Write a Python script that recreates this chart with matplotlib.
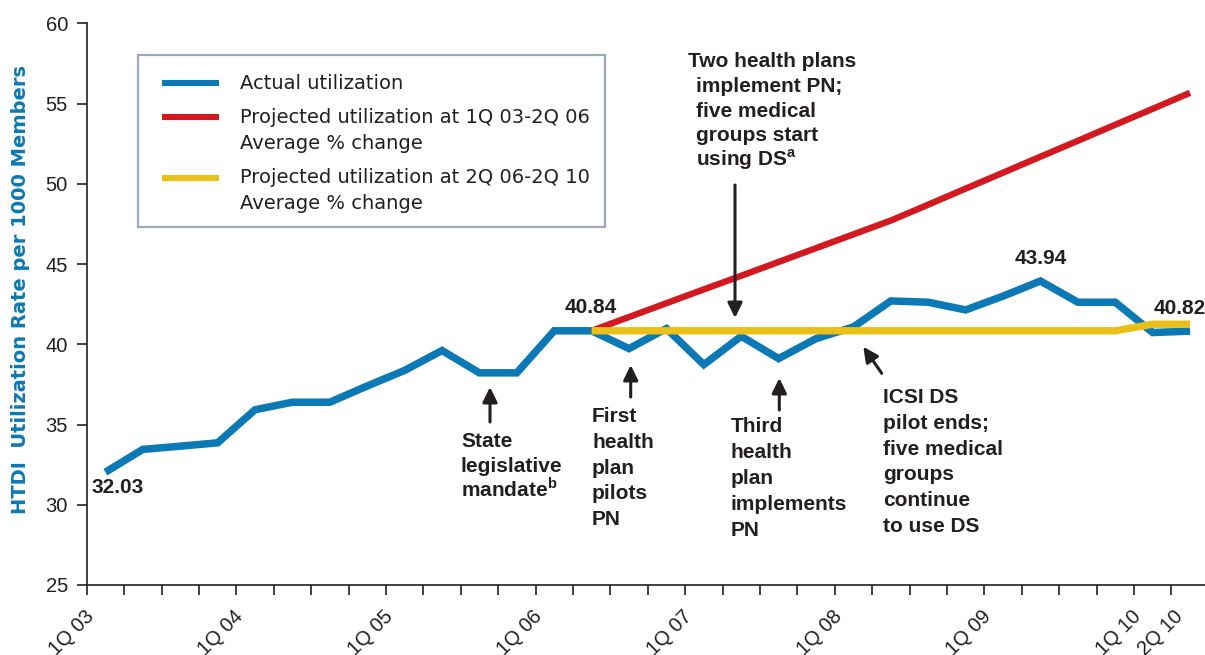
import numpy as np
import matplotlib
matplotlib.use("Agg")
import matplotlib.pyplot as plt
from matplotlib.transforms import Affine2D, ScaledTranslation
from matplotlib.patches import Rectangle, FancyArrowPatch
from matplotlib.lines import Line2D

# ---------------- data ----------------
quarters = ["1Q 03", "2Q 03", "3Q 03", "4Q 03",
            "1Q 04", "2Q 04", "3Q 04", "4Q 04",
            "1Q 05", "2Q 05", "3Q 05", "4Q 05",
            "1Q 06", "2Q 06", "3Q 06", "4Q 06",
            "1Q 07", "2Q 07", "3Q 07", "4Q 07",
            "1Q 08", "2Q 08", "3Q 08", "4Q 08",
            "1Q 09", "2Q 09", "3Q 09", "4Q 09",
            "1Q 10", "2Q 10"]
shown_ticks = ["1Q 03", "1Q 04", "1Q 05", "1Q 06", "1Q 07", "1Q 08", "1Q 09", "1Q 10", "2Q 10"]

actual = [32.03, 33.45, 33.65, 33.86, 35.92, 36.39, 36.39, 37.40, 38.37, 39.61,
          38.22, 38.22, 40.84, 40.84, 39.73, 40.98, 38.73, 40.50, 39.11, 40.35,
          41.08, 42.70, 42.62, 42.14, 43.00, 43.94, 42.62, 42.62, 40.73, 40.82]

proj_start = "2Q 06"
proj_1q03_2q06 = [40.84, 41.70, 42.56, 43.42, 44.27, 45.13, 45.99, 46.85, 47.71,
                  48.70, 49.70, 50.69, 51.69, 52.68, 53.68, 54.67, 55.67]
proj_2q06_2q10 = [40.84, 40.84, 40.84, 40.84, 40.84, 40.84, 40.84, 40.84, 40.84,
                  40.84, 40.84, 40.84, 40.84, 40.84, 40.84, 41.25, 41.25]

point_labels = ["32.03", "40.84", "43.94", "40.82"]

legend_labels = [["Actual utilization"],
                 ["Projected utilization at 1Q 03-2Q 06", "Average % change"],
                 ["Projected utilization at 2Q 06-2Q 10", "Average % change"]]

# ---------------- style ----------------
BLUE = "#0a79b5"
RED = "#d4181f"
YEL = "#e8c018"
TXT = "#231f20"
BOX = "#9da8bb"

plt.rcParams["font.family"] = ["Liberation Sans", "DejaVu Sans"]
plt.rcParams["mathtext.fontset"] = "custom"
plt.rcParams["mathtext.rm"] = "Liberation Sans"
plt.rcParams["mathtext.bf"] = "Liberation Sans:bold"

W, H = 1205, 655
fig = plt.figure(figsize=(W / 100, H / 100), dpi=100)
P = Affine2D().scale(1 / 100, -1 / 100).translate(0, H / 100) + fig.dpi_scale_trans

ax_left, ax_bottom, ax_top = 86.7, 585.0, 23.3
ax = fig.add_axes([ax_left / W, (H - ax_bottom) / H, (W - ax_left) / W, (ax_bottom - ax_top) / H])
ax.set_xlim(0, 29.9)
ax.set_ylim(25, 60)

for s in ["top", "right"]:
    ax.spines[s].set_visible(False)
for s in ["left", "bottom"]:
    ax.spines[s].set_color(TXT)
    ax.spines[s].set_linewidth(1.2)

ax.set_yticks(np.arange(25, 61, 5))
ax.tick_params(axis="y", direction="out", length=7, width=1.2, color=TXT,
               labelsize=14.5, labelcolor=TXT, pad=6.5)
ax.set_xticks(np.arange(len(quarters)))
ax.set_xticklabels([q if q in shown_ticks else "" for q in quarters],
                   rotation=45, ha="right", va="center", rotation_mode="anchor")
ax.tick_params(axis="x", direction="out", length=7, width=1.2, color=TXT,
               labelsize=14.5, labelcolor=TXT, pad=13)
for lab in ax.get_xticklabels():
    dx = 9 if lab.get_text() == "2Q 10" else 4
    lab.set_transform(lab.get_transform() + ScaledTranslation(dx / 100, -1 / 100, fig.dpi_scale_trans))

# ---------------- lines ----------------
x_act = np.arange(len(actual)) + 0.5
i0 = quarters.index(proj_start)
x_proj = np.arange(i0, i0 + len(proj_1q03_2q06)) + 0.5

ax.plot(x_act, actual, color=BLUE, lw=5.4, solid_joinstyle="miter",
        solid_capstyle="butt", zorder=3, clip_on=False)
ax.plot(x_proj, proj_1q03_2q06, color=RED, lw=4.6, solid_joinstyle="miter",
        solid_capstyle="butt", zorder=4, clip_on=False)
ax.plot(x_proj, proj_2q06_2q10, color=YEL, lw=5.3, solid_joinstyle="miter",
        solid_capstyle="butt", zorder=5, clip_on=False)

# ---------------- y label ----------------
fig.text(21, 290, "HTDI  Utilization Rate per 1000 Members", transform=P, rotation=90,
         ha="center", va="center", fontsize=14, fontweight="bold", color=BLUE,
         family=["DejaVu Sans"])

# ---------------- legend (box) ----------------
fig.patches.append(Rectangle((138.3, 55.0), 605 - 138.3, 226.7 - 55, transform=P,
                             fill=False, edgecolor=BOX, lw=1.6, zorder=6))
leg_colors = [BLUE, RED, YEL]
leg_line_y = [83.3, 116.7, 177.7]
leg_text_y = [[89.3], [122.7, 149.0], [183.3, 209.3]]
for col, ly, labs, tys in zip(leg_colors, leg_line_y, legend_labels, leg_text_y):
    fig.lines.append(Line2D([162.3, 219.3], [ly, ly], transform=P, color=col,
                            lw=4.4, solid_capstyle="butt"))
    for lab, ty in zip(labs, tys):
        fig.text(240, ty, lab, transform=P, ha="left", va="baseline",
                 fontsize=14, color=TXT, family=["DejaVu Sans"])

# ---------------- annotations ----------------
def block(lines, x, y0, dy, **kw):
    for i, s in enumerate(lines):
        fig.text(x, y0 + i * dy, s, transform=P, ha="left", va="baseline",
                 fontsize=15, fontweight="bold", color=TXT, **kw)

def arrow(x0, y0, x1, y1):
    fig.patches.append(FancyArrowPatch((x0, y0), (x1, y1), transform=P,
                                       arrowstyle="-|>,head_length=0.45,head_width=0.22",
                                       mutation_scale=20, lw=2.2, color=TXT,
                                       shrinkA=0, shrinkB=0, zorder=7))

block(["Two health plans"], 688, 67.3, 24.7)
block(["implement PN;", "five medical", "groups start", r"using DS$^{\mathbf{a}}$"],
      696, 92.0, 24.7)
arrow(735, 185, 735, 318)

block(["State", "legislative", r"mandate$^{\mathbf{b}}$"], 461, 446.7, 25.0)
arrow(490, 422, 490, 387)

block(["First", "health", "plan", "pilots", "PN"], 592, 422.3, 25.7)
arrow(630.7, 397, 630.7, 365)

block(["Third", "health", "plan", "implements", "PN"], 731, 432.3, 26.0)
arrow(779.3, 410, 779.3, 378)

block(["ICSI DS", "pilot ends;", "five medical", "groups", "continue", "to use DS"],
      882.7, 403.3, 25.7)
arrow(881.7, 373.3, 863.3, 346.7)

# ---------------- point labels ----------------
lab_kw = dict(transform=P, va="baseline", fontsize=15, fontweight="bold", color=TXT)
fig.text(91.7, 493.3, point_labels[0], ha="left", **lab_kw)
fig.text(616.7, 313.3, point_labels[1], ha="right", **lab_kw)
fig.text(1041, 264, point_labels[2], ha="center", **lab_kw)
fig.text(1154, 314, point_labels[3], ha="left", **lab_kw)

fig.savefig("out.png", dpi=100)
